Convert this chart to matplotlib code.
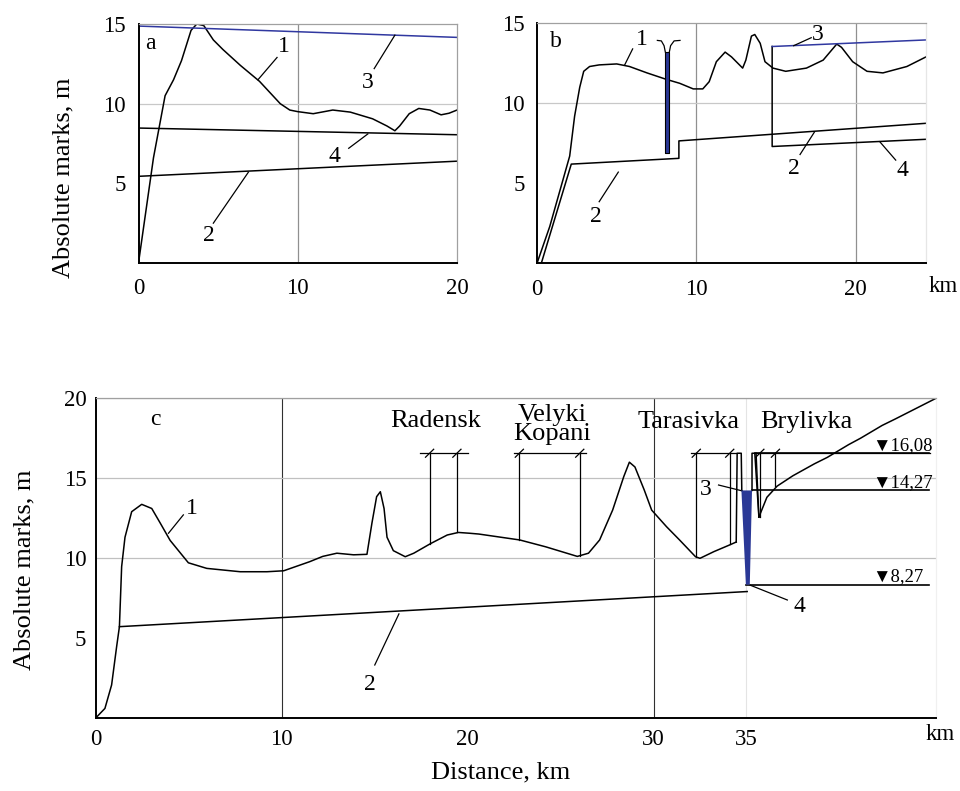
import matplotlib
matplotlib.use("Agg")
import matplotlib.pyplot as plt

plt.rcParams["font.family"] = ["Liberation Serif", "DejaVu Sans"]

# ----------------------
# Data, panel a
# ----------------------
a_terrain_x = [0, 0.94, 1.67, 2.2, 2.7, 3.3, 3.66, 4.1, 4.7, 5.3, 6.4, 7.6, 8.9, 9.5, 10.0,
               10.97, 12.2, 13.3, 14.7, 15.6, 16.1, 16.4, 17.0, 17.6, 18.3, 19.0, 19.5, 20.0]
a_terrain_y = [0, 6.6, 10.5, 11.5, 12.7, 14.6, 15.0, 14.9, 14.0, 13.4, 12.4, 11.4, 10.0, 9.6, 9.5,
               9.37, 9.6, 9.47, 9.05, 8.6, 8.3, 8.6, 9.37, 9.7, 9.6, 9.3, 9.4, 9.6]
a_bottom_x = [0, 20]
a_bottom_y = [5.44, 6.39]
a_water_x = [0, 20]
a_water_y = [14.87, 14.16]
a_low_x = [0, 20]
a_low_y = [8.47, 8.05]

# ----------------------
# Data, panel b
# ----------------------
b_terrain_x = [0, 0.8, 2.05, 2.36, 2.68, 2.93, 3.3, 3.9, 5.0, 5.8, 6.9, 8.1, 8.95, 9.8, 10.4,
               10.8, 11.25, 11.8, 12.2, 12.9, 13.1, 13.45, 13.66, 14.0, 14.3, 14.8, 15.6, 16.9,
               17.95, 18.8, 19.1, 19.8, 20.7, 21.7, 23.2, 24.4]
b_terrain_y = [0, 2.3, 6.7, 9.2, 11.0, 12.0, 12.3, 12.4, 12.46, 12.3, 11.9, 11.5, 11.25, 10.9, 10.9,
               11.35, 12.6, 13.2, 12.9, 12.2, 12.7, 14.2, 14.3, 13.75, 12.6, 12.2, 12.0, 12.2,
               12.7, 13.7, 13.5, 12.6, 12.0, 11.9, 12.3, 12.9]
b_bottom_x = [0.27, 2.15, 8.9, 8.9, 24.4]
b_bottom_y = [0, 6.2, 6.56, 7.65, 8.75]
b_water_x = [14.75, 24.4]
b_water_y = [13.55, 13.96]
b_low_x = [14.75, 14.75, 24.4]
b_low_y = [13.55, 7.3, 7.75]
b_well_x = [8.05, 8.3]
b_well_y = [6.87, 13.2]

# ----------------------
# Data, panel c
# ----------------------
c_terrain_x = [0, 0.48, 0.84, 1.11, 1.26, 1.38, 1.56, 1.92, 2.46, 3.0, 3.45, 3.99, 4.97, 5.96,
               7.76, 9.2, 10.1, 11.5, 12.2, 12.96, 13.86, 14.58, 14.85, 15.1, 15.3, 15.5, 15.66,
               16.0, 16.64, 17.1, 18.0, 18.9, 19.5, 20.1, 20.6, 22.8, 24.2, 25.9, 26.5, 27.1,
               27.8, 28.4, 28.7, 29.0, 29.5, 29.9, 30.7, 31.4, 32.26, 32.5, 33.25, 34.06, 34.45]
c_terrain_y = [0, 0.58, 2.05, 4.45, 5.7, 9.46, 11.3, 12.9, 13.36, 13.1, 12.2, 11.1, 9.7, 9.35,
               9.14, 9.14, 9.2, 9.77, 10.1, 10.3, 10.2, 10.23, 12.2, 13.84, 14.15, 13.1, 11.3,
               10.46, 10.08, 10.3, 10.9, 11.44, 11.6, 11.55, 11.5, 11.13, 10.7, 10.1, 10.3, 11.13,
               13.0, 15.1, 16.0, 15.7, 14.26, 13.0, 11.96, 11.13, 10.08, 9.98, 10.4, 10.8, 11.0]
c_dike_left_x = [34.45, 34.5, 34.72, 34.75]
c_dike_left_y = [11.0, 16.56, 16.56, 14.23]
c_dike_right_x = [35.3, 35.3, 35.45, 35.67]
c_dike_right_y = [14.23, 16.56, 16.56, 12.56]
c_right_x = [35.67, 36.1, 36.65, 37.5, 38.66, 39.35, 40.5, 41.14, 42.3, 43.0, 44.1, 45.2]
c_right_y = [12.56, 13.8, 14.5, 15.15, 15.9, 16.3, 17.1, 17.5, 18.3, 18.7, 19.35, 20.0]
c_bottom_x = [1.26, 35.04]
c_bottom_y = [5.7, 7.9]
c_pit_x = [34.73, 35.3, 35.18, 34.97]
c_pit_y = [14.23, 14.23, 8.33, 8.33]

# settlements: name, marker positions, terrain height at marker
c_towns = ["Radensk", "Velyki\nKopani", "Tarasivka", "Brylivka"]
c_town_marks = [[17.95, 19.42], [22.78, 26.03], [32.3, 34.1], [35.72, 36.56]]
c_town_ground = [[10.9, 11.6], [11.13, 10.1], [10.05, 10.85], [12.56, 14.5]]
c_town_span = [[17.41, 20.0], [22.47, 26.38], [31.99, 34.45], [35.45, 44.9]]
c_town_top = 16.56

# levels on the right
c_levels = [16.56, 14.23, 8.33]
c_level_start = [35.45, 35.3, 35.0]
c_level_labels = ["▼16,08", "▼14,27", "▼8,27"]

BLUE = "#3038a0"
FILL = "#2a3896"


def px(x, y):
    return x / 960, 1 - y / 791


def style(ax, xlim, ylim, xticks, yticks, right_color):
    ax.set_xlim(*xlim)
    ax.set_ylim(*ylim)
    ax.set_xticks(xticks)
    ax.set_yticks(yticks)
    for s in ["left", "bottom"]:
        ax.spines[s].set_color("black")
        ax.spines[s].set_linewidth(1.4)
    ax.spines["top"].set_color("#a0a0a0")
    ax.spines["top"].set_linewidth(0.9)
    ax.spines["right"].set_color(right_color)
    ax.spines["right"].set_linewidth(0.9)
    ax.tick_params(length=0, labelsize=16.5)
    ax.patch.set_alpha(0)


def leader(ax, p, q, **kw):
    ax.plot([p[0], q[0]], [p[1], q[1]], color="black", lw=0.9, **kw)


fig = plt.figure(figsize=(9.6, 7.91), dpi=100)

# ----------------------
# Panel a
# ----------------------
axa = fig.add_axes([138.5 / 960, 1 - 263 / 791, 318.5 / 960, 239 / 791])
style(axa, (0, 20), (0, 15), [0, 10, 20], [5, 10, 15], "#a0a0a0")
axa.tick_params(axis="x", pad=11)
axa.tick_params(axis="y", pad=9)
axa.axvline(10, color="#909090", lw=0.9)
axa.axhline(10, color="#c8c8c8", lw=0.9)
axa.plot(a_terrain_x, a_terrain_y, color="black", lw=1.1)
axa.plot(a_bottom_x, a_bottom_y, color="black", lw=1.1)
axa.plot(a_low_x, a_low_y, color="black", lw=1.1)
axa.plot(a_water_x, a_water_y, color=BLUE, lw=1.1)
axa.text(0.77, 13.8, "a", fontsize=17, ha="center", va="center")
for lab, pos, p, q in [("1", (9.1, 13.6), (8.7, 12.9), (7.5, 11.5)),
                       ("3", (14.4, 11.3), (14.8, 12.2), (16.1, 14.3)),
                       ("4", (12.3, 6.7), (13.2, 7.2), (14.4, 8.1)),
                       ("2", (4.4, 1.7), (4.7, 2.5), (6.9, 5.7))]:
    axa.text(*pos, lab, fontsize=17, ha="center", va="center")
    leader(axa, p, q)

# ----------------------
# Panel b
# ----------------------
axb = fig.add_axes([537 / 960, 1 - 263.3 / 791, 389 / 960, 240 / 791])
style(axb, (0, 24.4), (0, 15), [0, 10, 20], [5, 10, 15], "#e6e6e6")
axb.tick_params(axis="x", pad=11)
axb.tick_params(axis="y", pad=9)
axb.axvline(10, color="#909090", lw=0.9)
axb.axvline(20, color="#909090", lw=0.9)
axb.axhline(10, color="#c8c8c8", lw=0.9)
axb.plot(b_terrain_x, b_terrain_y, color="black", lw=1.1)
axb.plot(b_bottom_x, b_bottom_y, color="black", lw=1.1)
axb.plot(b_low_x, b_low_y, color="black", lw=1.1)
axb.plot(b_water_x, b_water_y, color=BLUE, lw=1.1)
axb.fill_between(b_well_x, b_well_y[0], b_well_y[1], color=FILL, ec="black", lw=0.8, zorder=3)
axb.plot([7.55, 7.8, 7.97, 8.05], [13.93, 13.9, 13.6, 13.2], color="black", lw=0.9)
axb.plot([8.97, 8.6, 8.38, 8.3], [13.93, 13.9, 13.6, 13.2], color="black", lw=0.9)
axb.text(1.2, 13.85, "b", fontsize=17, ha="center", va="center")
for lab, pos, p, q in [("1", (6.55, 14.0), (6.0, 13.4), (5.5, 12.4)),
                       ("2", (3.7, 2.9), (3.9, 3.85), (5.1, 5.7)),
                       ("3", (17.6, 14.3), (17.2, 14.1), (16.1, 13.6)),
                       ("2", (16.1, 5.9), (16.5, 6.8), (17.4, 8.2)),
                       ("4", (22.9, 5.8), (22.5, 6.45), (21.5, 7.6))]:
    axb.text(*pos, lab, fontsize=17, ha="center", va="center")
    leader(axb, p, q)
fig.text(*px(943, 287), "km", fontsize=16.5, ha="center", va="center")

fig.text(*px(63, 178), "Absolute marks, m", fontsize=19, rotation=90, ha="center", va="center")

# ----------------------
# Panel c
# ----------------------
axc = fig.add_axes([96 / 960, 1 - 717.7 / 791, 840 / 960, 319.4 / 791])
style(axc, (0, 45.2), (0, 20), [0, 10, 20, 30, 35], [5, 10, 15, 20], "#f0f0f0")
axc.tick_params(axis="x", pad=8)
axc.tick_params(axis="y", pad=7)
axc.axvline(10, color="#303030", lw=0.8)
axc.axvline(30, color="#303030", lw=0.8)
axc.axvline(35, color="#e4e4e4", lw=0.8)
for yv in [10, 15, 20]:
    axc.axhline(yv, color="#c0c0c0", lw=0.9)
axc.plot(c_terrain_x, c_terrain_y, color="black", lw=1.1)
axc.plot(c_dike_left_x, c_dike_left_y, color="black", lw=1.1)
axc.plot(c_dike_right_x, c_dike_right_y, color="black", lw=1.1)
axc.plot([35.52, 35.67], [c_town_top, 12.56], color="black", lw=1.0)
axc.plot(c_right_x, c_right_y, color="black", lw=1.1)
axc.plot(c_bottom_x, c_bottom_y, color="black", lw=1.1)
axc.fill(c_pit_x, c_pit_y, color=FILL, lw=0, zorder=3)

for lvl, x0, lab in zip(c_levels, c_level_start, c_level_labels):
    axc.plot([x0, 44.8], [lvl, lvl], color="black", lw=1.2)
    axc.text(41.75, lvl + 0.2, lab, fontsize=13.5, ha="left", va="baseline")

town_label_pos = [(18.25, 18.6), (24.55, 18.35), (31.9, 18.5), (38.2, 18.5)]
for name, marks, ground, span, tpos in zip(c_towns, c_town_marks, c_town_ground,
                                            c_town_span, town_label_pos):
    axc.plot(span, [c_town_top, c_town_top], color="black", lw=0.9)
    for xm, g in zip(marks, ground):
        axc.plot([xm, xm], [g, c_town_top], color="black", lw=0.9)
        axc.plot([xm - 0.22, xm + 0.22], [c_town_top - 0.25, c_town_top + 0.25],
                 color="black", lw=0.9)
    axc.text(*tpos, name, fontsize=19, ha="center", va="center", linespacing=0.85)

axc.text(3.18, 18.7, "c", fontsize=17, ha="center", va="center")
for lab, pos, p, q in [("1", (5.15, 13.1), (4.7, 12.7), (3.9, 11.55)),
                       ("2", (14.75, 2.05), (15.0, 3.3), (16.3, 6.5)),
                       ("3", (32.83, 14.26), (33.5, 14.57), (34.78, 14.2)),
                       ("4", (37.85, 6.95), (35.2, 8.3), (37.2, 7.37))]:
    axc.text(*pos, lab, fontsize=17, ha="center", va="center")
    leader(axc, p, q)
fig.text(*px(940, 735), "km", fontsize=16.5, ha="center", va="center")

fig.text(*px(24, 570), "Absolute marks, m", fontsize=19, rotation=90, ha="center", va="center")
fig.text(*px(501, 772), "Distance, km", fontsize=19, ha="center", va="center")

fig.savefig("out.png", dpi=100, facecolor="white")
